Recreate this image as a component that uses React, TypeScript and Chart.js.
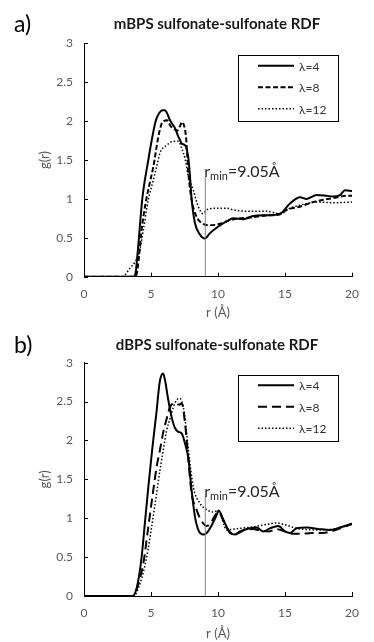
import React, { useEffect, useRef } from "react";
import { Chart, registerables } from "chart.js";

Chart.register(...registerables);

const FONT = "Lato, 'Noto Sans', sans-serif";

// ---------- data: panel a (mBPS) ----------
const A_R4 = [0, 3.7, 3.85, 4.0, 4.1, 4.35, 4.8, 5.05, 5.35, 5.6, 5.85, 6.04, 6.2, 6.42, 6.79, 7.04, 7.16, 7.29, 7.54, 7.79, 7.91, 8.03, 8.28, 8.66, 9.03, 9.4, 9.9, 10.15, 10.65, 11.14, 11.9, 12.63, 13.63, 14.63, 15.37, 16.12, 16.62, 17.36, 18.1, 18.6, 19.1, 19.48, 20];
const A_G4 = [0, 0, 0.05, 0.3, 0.5, 1.0, 1.5, 1.75, 2.0, 2.1, 2.14, 2.14, 2.1, 2.01, 1.91, 1.8, 1.76, 1.71, 1.69, 1.52, 1.29, 1.0, 0.69, 0.54, 0.49, 0.56, 0.63, 0.66, 0.71, 0.75, 0.74, 0.78, 0.79, 0.81, 0.94, 1.02, 1.0, 1.05, 1.04, 1.03, 1.05, 1.11, 1.1];
const A_R8 = [0, 3.8, 3.95, 4.1, 4.3, 4.6, 4.9, 5.17, 5.55, 5.8, 5.95, 6.2, 6.45, 6.7, 6.97, 7.15, 7.33, 7.45, 7.61, 7.79, 8.03, 8.4, 8.78, 9.4, 10.15, 10.9, 11.6, 12.4, 13.2, 14.0, 14.6, 15.12, 16.12, 17.11, 18.6, 19.6, 20];
const A_G8 = [0, 0, 0.05, 0.25, 0.6, 0.95, 1.2, 1.41, 1.8, 1.97, 2.0, 2.01, 1.94, 1.9, 1.88, 1.93, 1.99, 1.95, 1.8, 1.33, 0.99, 0.77, 0.69, 0.66, 0.68, 0.73, 0.75, 0.76, 0.78, 0.79, 0.8, 0.86, 0.9, 0.96, 1.01, 1.04, 1.04];
const A_R12 = [0, 2.94, 3.1, 3.43, 3.81, 4.13, 4.43, 4.8, 5.17, 5.4, 5.67, 6.17, 6.67, 7.04, 7.29, 7.54, 7.79, 8.16, 8.53, 8.9, 9.15, 9.9, 10.65, 11.14, 12.39, 13.63, 14.63, 15.37, 16.12, 17.36, 18.6, 20];
const A_G12 = [0, 0, 0.03, 0.11, 0.19, 0.32, 0.6, 0.99, 1.24, 1.4, 1.59, 1.69, 1.74, 1.74, 1.65, 1.52, 1.29, 1.11, 0.9, 0.81, 0.86, 0.88, 0.88, 0.86, 0.84, 0.84, 0.81, 0.88, 0.92, 0.96, 0.95, 0.96];

// ---------- data: panel b (dBPS) ----------
const B_R4 = [0, 3.6, 3.9, 4.1, 4.3, 4.55, 4.8, 5.1, 5.4, 5.65, 5.9, 6.04, 6.29, 6.54, 6.79, 7.04, 7.29, 7.54, 7.79, 8.03, 8.28, 8.53, 8.9, 9.15, 9.53, 9.9, 10.05, 10.4, 10.9, 11.27, 11.64, 12.39, 12.88, 13.38, 13.88, 14.5, 15.0, 15.37, 15.87, 16.62, 17.61, 18.36, 19.1, 20];
const B_G4 = [0, 0, 0.08, 0.25, 0.5, 0.95, 1.4, 1.9, 2.35, 2.75, 2.86, 2.78, 2.52, 2.3, 2.16, 2.11, 2.09, 1.96, 1.77, 1.36, 1.02, 0.85, 0.79, 0.81, 0.91, 1.04, 1.1, 0.98, 0.81, 0.79, 0.83, 0.87, 0.88, 0.83, 0.87, 0.9, 0.83, 0.81, 0.87, 0.88, 0.86, 0.85, 0.88, 0.93];
const B_R8 = [0, 3.7, 4.05, 4.43, 4.8, 5.17, 5.42, 5.67, 5.92, 6.17, 6.42, 6.79, 7.1, 7.29, 7.54, 7.79, 8.03, 8.4, 8.66, 9.15, 9.5, 9.8, 10.05, 10.4, 10.9, 11.4, 12.0, 12.6, 13.2, 13.8, 14.4, 15.0, 15.6, 16.2, 17.0, 17.8, 18.6, 19.3, 20];
const B_G8 = [0, 0, 0.16, 0.42, 0.89, 1.36, 1.66, 1.88, 2.11, 2.28, 2.43, 2.48, 2.46, 2.48, 2.22, 1.75, 1.32, 1.11, 1.0, 0.9, 0.95, 1.04, 1.08, 0.97, 0.82, 0.8, 0.85, 0.86, 0.84, 0.83, 0.86, 0.83, 0.8, 0.8, 0.81, 0.81, 0.84, 0.88, 0.93];
const B_R12 = [0, 3.7, 4.18, 4.68, 5.05, 5.42, 5.67, 5.92, 6.17, 6.42, 6.67, 6.91, 7.16, 7.41, 7.54, 7.66, 7.79, 8.16, 8.66, 9.15, 9.65, 10.02, 10.65, 11.64, 12.63, 13.63, 14.38, 15.12, 15.87, 17.36, 18.6, 20];
const B_G12 = [0, 0, 0.16, 0.5, 0.89, 1.32, 1.62, 1.88, 2.13, 2.28, 2.43, 2.52, 2.54, 2.43, 2.28, 2.09, 1.88, 1.4, 1.19, 1.11, 1.08, 1.1, 0.85, 0.87, 0.89, 0.92, 0.94, 0.91, 0.87, 0.85, 0.86, 0.92];

// ---------- shared ----------
const LABELS = ["λ=4", "λ=8", "λ=12"];
const X_TICKS = [0, 5, 10, 15, 20];
const Y_TICKS = [0, 0.5, 1, 1.5, 2, 2.5, 3];
const R_MIN = 9.05;
const R_MIN_LINE_TOP = 1.29;
const R_MIN_TEXT = ["r", "min", "=9.05Å"];

type Line = { r: number[]; g: number[]; dash: number[]; width: number };

type PanelProps = {
  top: number;
  height: number;
  areaTop: number;
  areaBottom: number;
  tag: string;
  title: string;
  lines: Line[];
};

function Panel(p: PanelProps) {
  const ref = useRef<HTMLCanvasElement | null>(null);
  useEffect(() => {
    const canvas = ref.current;
    if (!canvas) return;
    const deco = {
      id: "deco" + p.tag,
      afterDraw(chart: any) {
        const ctx = chart.ctx as CanvasRenderingContext2D;
        const { left, right, top, bottom } = chart.chartArea;
        const xs = chart.scales.x;
        const ys = chart.scales.y;
        ctx.save();
        // inward tick marks
        ctx.strokeStyle = "#000";
        ctx.lineWidth = 1;
        ctx.beginPath();
        X_TICKS.forEach((v) => {
          const px = Math.round(xs.getPixelForValue(v)) + 0.5;
          ctx.moveTo(px, bottom);
          ctx.lineTo(px, bottom - 4);
        });
        Y_TICKS.forEach((v) => {
          const py = Math.round(ys.getPixelForValue(v)) + 0.5;
          ctx.moveTo(left, py);
          ctx.lineTo(left + 4, py);
        });
        ctx.stroke();

        // panel tag
        ctx.fillStyle = "#000";
        ctx.font = `23px ${FONT}`;
        ctx.textAlign = "left";
        ctx.textBaseline = "middle";
        ctx.fillText(p.tag, 14, 25);

        // title
        ctx.font = `bold 15px ${FONT}`;
        ctx.textAlign = "center";
        ctx.fillStyle = "#1a1a1a";
        ctx.fillText(p.title, 217, 24);

        // legend box
        const lx = right - 114;
        const ly = top + 12;
        const lw = 100;
        const lh = 66;
        ctx.strokeStyle = "#000";
        ctx.lineWidth = 1;
        ctx.strokeRect(Math.round(lx) + 0.5, Math.round(ly) + 0.5, lw, lh);
        ctx.font = `12px ${FONT}`;
        ctx.textAlign = "left";
        ctx.textBaseline = "middle";
        p.lines.forEach((ln, i) => {
          const yy = ly + 10.5 + i * 21.5;
          ctx.beginPath();
          ctx.setLineDash(ln.dash);
          ctx.lineWidth = ln.width;
          ctx.strokeStyle = "#000";
          ctx.moveTo(lx + 20, yy);
          ctx.lineTo(lx + 56, yy);
          ctx.stroke();
          ctx.setLineDash([]);
          ctx.fillStyle = "#333";
          ctx.fillText(LABELS[i], lx + 61, yy + 1);
        });

        // r_min label
        const bx = xs.getPixelForValue(R_MIN) - 1;
        const by = ys.getPixelForValue(R_MIN_LINE_TOP) + 1;
        ctx.textBaseline = "alphabetic";
        ctx.fillStyle = "#262626";
        ctx.font = `16px ${FONT}`;
        ctx.fillText(R_MIN_TEXT[0], bx, by);
        let cx = bx + ctx.measureText(R_MIN_TEXT[0]).width;
        ctx.font = `11px ${FONT}`;
        ctx.fillText(R_MIN_TEXT[1], cx, by + 3);
        cx += ctx.measureText(R_MIN_TEXT[1]).width;
        ctx.font = `16px ${FONT}`;
        ctx.fillText(R_MIN_TEXT[2], cx, by);
        ctx.restore();
      },
    };

    const datasets: any[] = [
      {
        label: "rmin",
        data: [
          { x: R_MIN, y: 0 },
          { x: R_MIN, y: R_MIN_LINE_TOP },
        ],
        borderColor: "#808080",
        borderWidth: 1,
        pointRadius: 0,
        tension: 0,
      },
      ...p.lines.map((ln, i) => ({
        label: LABELS[i],
        data: ln.r.map((x, k) => ({ x, y: ln.g[k] })),
        borderColor: "#000",
        borderWidth: ln.width,
        borderDash: ln.dash,
        pointRadius: 0,
        cubicInterpolationMode: "monotone",
        fill: false,
      })),
    ];

    const chart = new Chart(canvas, {
      type: "line",
      data: { datasets },
      options: {
        animation: false,
        responsive: false,
        devicePixelRatio: 1,
        layout: { padding: { left: 0, right: 22, top: p.areaTop, bottom: 0 } },
        plugins: {
          legend: { display: false },
          tooltip: { enabled: false },
          title: { display: false },
        },
        scales: {
          x: {
            type: "linear",
            min: 0,
            max: 20,
            afterFit: (s: any) => {
              s.height = p.height - p.areaBottom;
            },
            afterBuildTicks: (s: any) => {
              s.ticks = X_TICKS.map((v) => ({ value: v }));
            },
            ticks: {
              color: "#595959",
              font: { family: FONT, size: 12 },
              padding: 10,
              maxRotation: 0,
              callback: (v: any) => String(v),
            },
            grid: { display: false, drawTicks: false },
            border: { display: true, color: "#000", width: 1 },
            title: {
              display: true,
              text: "r (Å)",
              color: "#595959",
              font: { family: FONT, size: 13 },
              padding: { top: 0, bottom: 0 },
            },
          },
          y: {
            type: "linear",
            min: 0,
            max: 3,
            afterFit: (s: any) => {
              s.width = 84;
            },
            afterBuildTicks: (s: any) => {
              s.ticks = Y_TICKS.map((v) => ({ value: v }));
            },
            ticks: {
              color: "#595959",
              font: { family: FONT, size: 12 },
              padding: 11,
              callback: (v: any) => String(v),
            },
            grid: { display: false, drawTicks: false },
            border: { display: true, color: "#000", width: 1 },
            title: {
              display: true,
              text: "g(r)",
              color: "#595959",
              font: { family: FONT, size: 13 },
              padding: { top: 37, bottom: 0 },
            },
          },
        },
      } as any,
      plugins: [deco],
    });
    return () => chart.destroy();
  }, []);
  return (
    <canvas
      ref={ref}
      width={374}
      height={p.height}
      style={{ position: "absolute", left: 0, top: p.top, width: 374, height: p.height, display: "block" }}
    />
  );
}

export default function App() {
  const linesA: Line[] = [
    { r: A_R4, g: A_G4, dash: [], width: 2 },
    { r: A_R8, g: A_G8, dash: [5, 2.5], width: 2 },
    { r: A_R12, g: A_G12, dash: [1.5, 2], width: 1.5 },
  ];
  const linesB: Line[] = [
    { r: B_R4, g: B_G4, dash: [], width: 2 },
    { r: B_R8, g: B_G8, dash: [9, 5], width: 2 },
    { r: B_R12, g: B_G12, dash: [1.5, 2], width: 1.5 },
  ];
  return (
    <div style={{ position: "fixed", left: 0, top: 0, width: 374, height: 642, background: "#fff" }}>
      <Panel top={0} height={321} areaTop={43.3} areaBottom={276.7} tag="a)" title="mBPS sulfonate-sulfonate RDF" lines={linesA} />
      <Panel top={321} height={321} areaTop={41.7} areaBottom={275} tag="b)" title="dBPS sulfonate-sulfonate RDF" lines={linesB} />
    </div>
  );
}
